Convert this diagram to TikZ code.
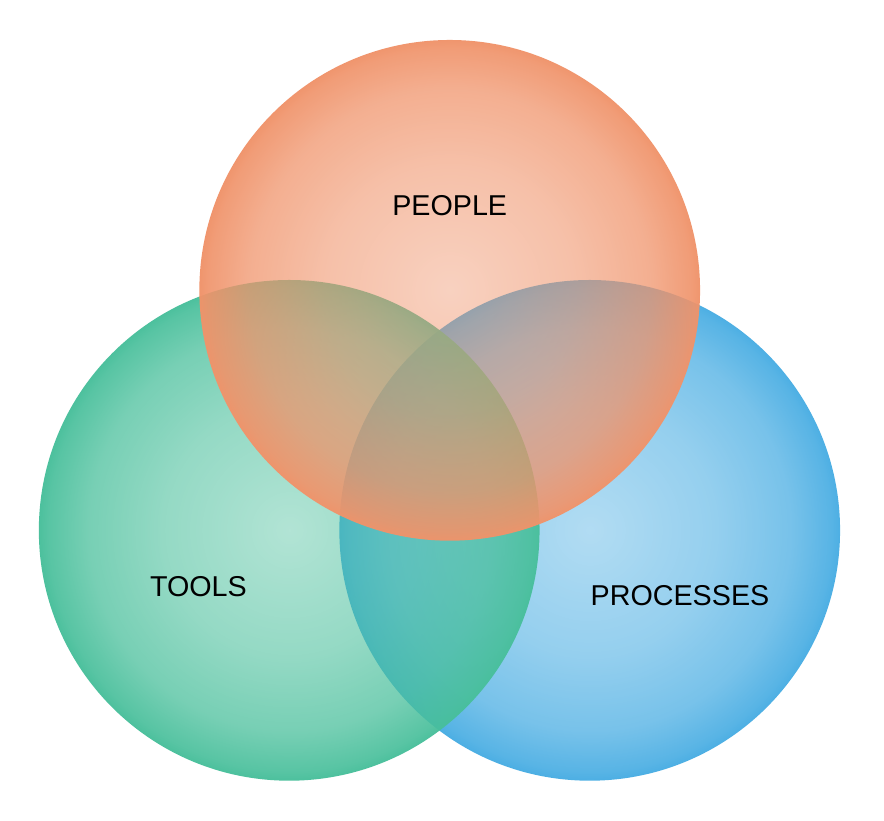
\documentclass[tikz,border=0pt]{standalone}
\usepackage{fontspec}
\setmainfont{Liberation Sans}
\usetikzlibrary{fadings}
\pgfdeclareradialshading{cfs}{\pgfpointorigin}{color(0bp)=(black!58); color(12.5bp)=(black!42); color(20bp)=(black!26); color(24bp)=(black!9); color(25bp)=(black!2); color(50bp)=(black!2)}
\pgfdeclarefading{cfade}{\pgfuseshading{cfs}}
\definecolor{orangeC}{HTML}{F0936A}
\definecolor{greenC}{HTML}{48BF9B}
\definecolor{blueC}{HTML}{48ADE3}
\tikzset{
  venn/.style={path fading=cfade, fit fading=true},
  lbl/.style={anchor=base, font=\fontsize{28.7}{34}\selectfont, text=black, inner sep=0pt}
}
\begin{document}
\begin{tikzpicture}[x=1pt,y=-1pt]
\useasboundingbox (0,0) rectangle (884,820);
\fill[white] (0,0) rectangle (884,820);
\fill[blueC, venn] (590,530) circle (250.5);
\fill[greenC, venn] (289.5,530) circle (250.5);
\fill[orangeC, venn] (450,290) circle (250.5);
\node[lbl] (people) at (449.7,215.7) {PEOPLE};
\node[lbl] (tools) at (198.4,596) {TOOLS};
\node[lbl] (processes) at (680,605) {PROCESSES};
\end{tikzpicture}
\end{document}
